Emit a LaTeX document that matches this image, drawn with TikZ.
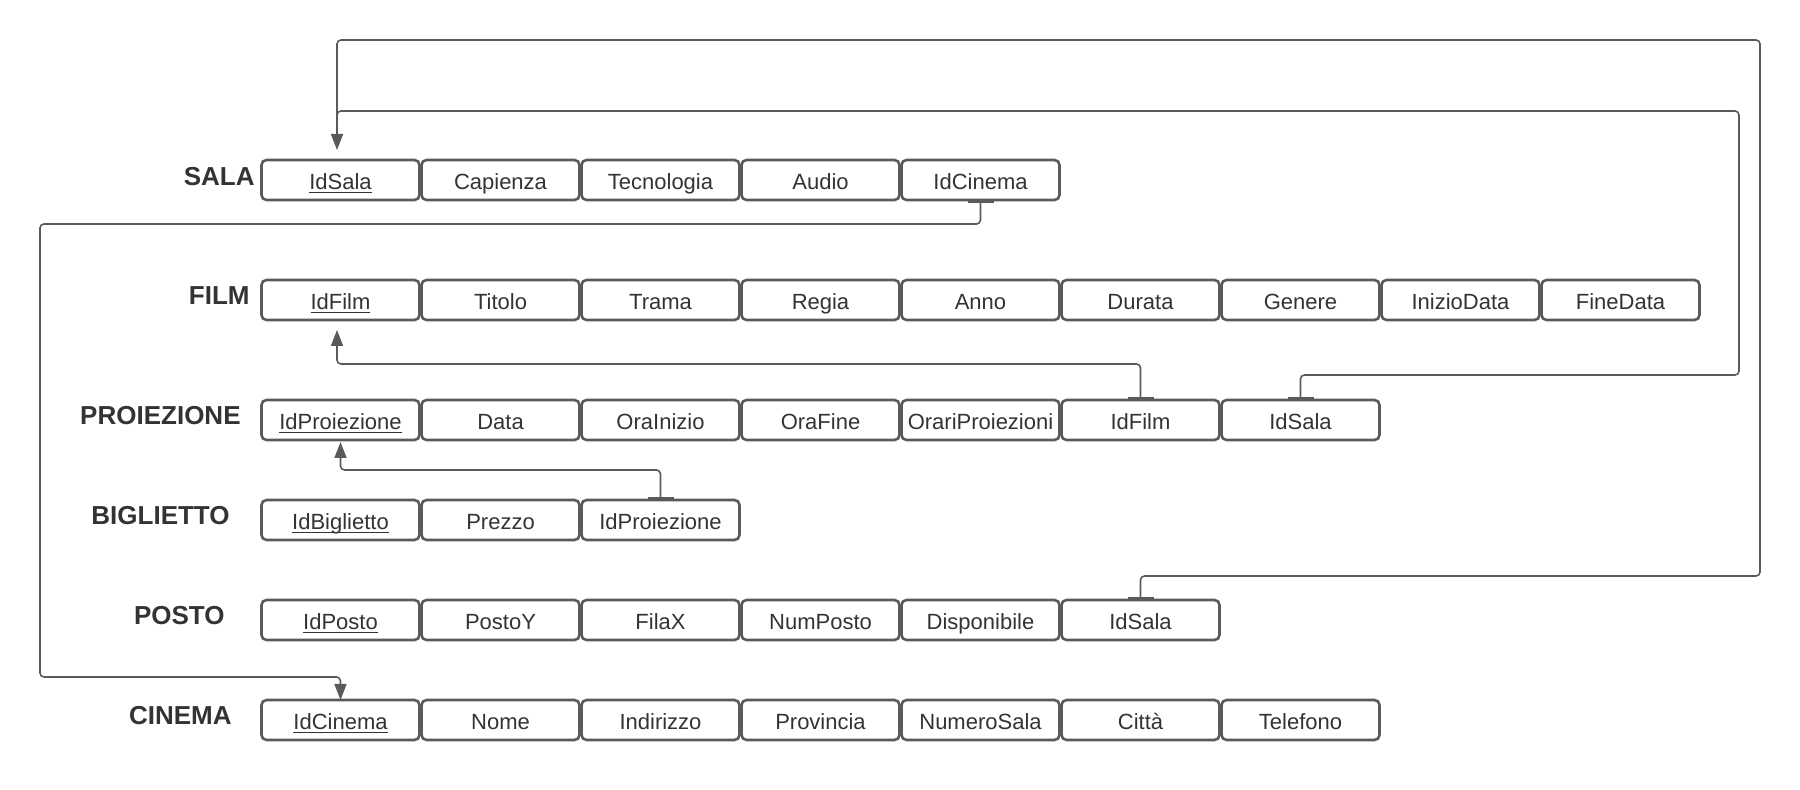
\documentclass[tikz,border=0pt]{standalone}
\usepackage{fontspec}
\setmainfont{Liberation Sans}
\usetikzlibrary{positioning,arrows.meta}
\definecolor{boxgray}{HTML}{5A5A5A}
\definecolor{txtgray}{HTML}{333333}
\newcommand{\keyattr}[1]{\underline{\smash{#1}}}

\begin{document}
\begin{tikzpicture}[x=0.5pt,y=-0.5pt,
  attr/.style={draw=boxgray, line width=1.3pt, rounded corners=2.5pt,
    minimum width=79pt, minimum height=20pt, inner sep=0pt, outer sep=0pt,
    text height=10.5pt, text depth=1.3pt,
    text=txtgray, font=\fontsize{11pt}{13pt}\selectfont},
  tbl/.style={anchor=east, inner sep=0pt, text=txtgray,
    font=\fontsize{13pt}{15pt}\selectfont\bfseries},
  fk/.style={draw=boxgray, line width=0.8pt, rounded corners=2pt},
  node distance=1pt]

\useasboundingbox (0,0) rectangle (1800,790);

% SALA
\node [tbl] (lsala) at (255,177) {SALA};
\node [attr] (s1) at (340.5,180) {\keyattr{IdSala}};
\node [attr, right=of s1] (s2) {Capienza};
\node [attr, right=of s2] (s3) {Tecnologia};
\node [attr, right=of s3] (s4) {Audio};
\node [attr, right=of s4] (s5) {IdCinema};

% FILM
\node [tbl] (lfilm) at (250,296) {FILM};
\node [attr] (f1) at (340.5,300) {\keyattr{IdFilm}};
\node [attr, right=of f1] (f2) {Titolo};
\node [attr, right=of f2] (f3) {Trama};
\node [attr, right=of f3] (f4) {Regia};
\node [attr, right=of f4] (f5) {Anno};
\node [attr, right=of f5] (f6) {Durata};
\node [attr, right=of f6] (f7) {Genere};
\node [attr, right=of f7] (f8) {InizioData};
\node [attr, right=of f8] (f9) {FineData};

% PROIEZIONE
\node [tbl] (lproiezione) at (241,416) {PROIEZIONE};
\node [attr] (p1) at (340.5,420) {\keyattr{IdProiezione}};
\node [attr, right=of p1] (p2) {Data};
\node [attr, right=of p2] (p3) {OraInizio};
\node [attr, right=of p3] (p4) {OraFine};
\node [attr, right=of p4] (p5) {OrariProiezioni};
\node [attr, right=of p5] (p6) {IdFilm};
\node [attr, right=of p6] (p7) {IdSala};

% BIGLIETTO
\node [tbl] (lbiglietto) at (230,516) {BIGLIETTO};
\node [attr] (b1) at (340.5,520) {\keyattr{IdBiglietto}};
\node [attr, right=of b1] (b2) {Prezzo};
\node [attr, right=of b2] (b3) {IdProiezione};

% POSTO
\node [tbl] (lposto) at (225,616) {POSTO};
\node [attr] (po1) at (340.5,620) {\keyattr{IdPosto}};
\node [attr, right=of po1] (po2) {PostoY};
\node [attr, right=of po2] (po3) {FilaX};
\node [attr, right=of po3] (po4) {NumPosto};
\node [attr, right=of po4] (po5) {Disponibile};
\node [attr, right=of po5] (po6) {IdSala};

% CINEMA
\node [tbl] (lcinema) at (232,716) {CINEMA};
\node [attr] (c1) at (340.5,720) {\keyattr{IdCinema}};
\node [attr, right=of c1] (c2) {Nome};
\node [attr, right=of c2] (c3) {Indirizzo};
\node [attr, right=of c3] (c4) {Provincia};
\node [attr, right=of c4] (c5) {NumeroSala};
\node [attr, right=of c5] (c6) {Città};
\node [attr, right=of c6] (c7) {Telefono};

% foreign keys
\draw [fk, {Bar[width=13pt,line width=1.5pt]}-{Triangle[length=8pt,width=6pt]}]
  (s5.south) |- (40,224) |- ([yshift=11.5pt]c1.north) -- (c1.north);
\draw [fk, {Bar[width=13pt,line width=1.5pt]}-{Triangle[length=8pt,width=6pt]}, shorten >=5pt]
  (po6.north) |- (1760,576) |- (337,40) -- ([xshift=-1.75pt]s1.north);
\draw [fk, {Bar[width=13pt,line width=1.5pt]}-]
  (p7.north) |- (1739,375) |- (337,111) -- ([xshift=-1.75pt,yshift=8pt]s1.north);
\draw [fk, {Bar[width=13pt,line width=1.5pt]}-{Triangle[length=8pt,width=6pt]}, shorten >=5pt]
  (p6.north) |- (337,364) -- ([xshift=-1.75pt]f1.south);
\draw [fk, {Bar[width=13pt,line width=1.5pt]}-{Triangle[length=8pt,width=6pt]}, shorten >=1pt]
  (b3.north) |- (340.5,470) -- (p1.south);
\end{tikzpicture}
\end{document}
